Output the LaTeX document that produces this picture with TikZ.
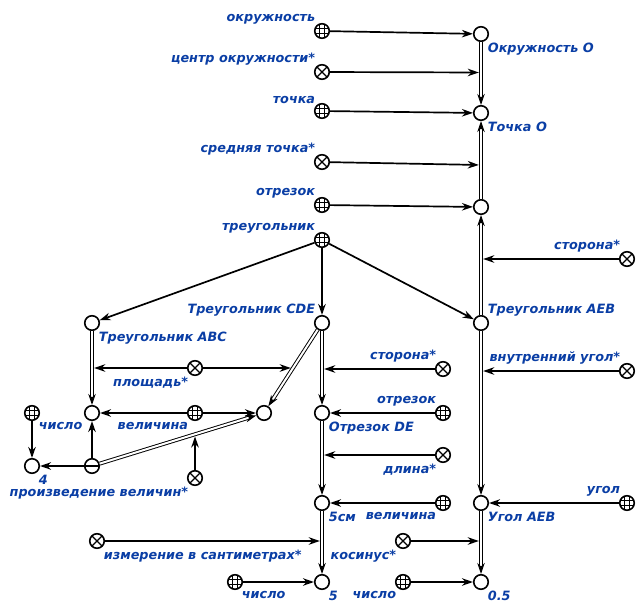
\documentclass[tikz,border=0pt]{standalone}
\usepackage{fontspec}
\setmainfont{DejaVu Sans}
\usetikzlibrary{arrows.meta,calc}
\definecolor{lblue}{RGB}{10,62,165}
\begin{document}
\begin{tikzpicture}[x=1pt,y=-1pt,
  >={Stealth[length=11pt,width=7.5pt,inset=3.5pt]},
  nd/.style={circle,draw,line width=1.6pt,minimum size=14.5pt,inner sep=0pt,fill=white},
  gridnd/.style={nd,path picture={
      \foreach \d in {-2.4,2.4}{
        \draw[line width=0.9pt] ([xshift=\d pt]path picture bounding box.north) -- ([xshift=\d pt]path picture bounding box.south);
        \draw[line width=0.9pt] ([yshift=\d pt]path picture bounding box.west) -- ([yshift=\d pt]path picture bounding box.east);
      }}},
  crossnd/.style={nd,path picture={
      \draw[line width=1.3pt] (path picture bounding box.north west) -- (path picture bounding box.south east);
      \draw[line width=1.3pt] (path picture bounding box.north east) -- (path picture bounding box.south west);}},
  minusnd/.style={nd,path picture={
      \draw[line width=1.3pt] (path picture bounding box.west) -- (path picture bounding box.east);}},
  arr/.style={->,line width=1.7pt},
  tojn/.style={arr,shorten >=2.2pt},
  dbl/.style={->,line width=0.95pt,double=white,double distance=2pt},
  lab/.style={text=lblue,font=\fontsize{12.8}{15}\selectfont\bfseries\itshape,inner sep=1pt},
  labb/.style={lab,yshift=-2pt},
]
\useasboundingbox[fill=white] (0,0) rectangle (642,615);

% left column of classes and relations
\node[gridnd,label={[lab]above left:окружность}] (okr) at (322,31) {};
\node[crossnd,label={[lab]above left:центр окружности*}] (cen) at (322,72) {};
\node[gridnd,label={[lab]above left:точка}] (toch) at (322,111) {};
\node[crossnd,label={[lab]above left:средняя точка*}] (sred) at (322,162) {};
\node[gridnd,label={[lab]above left:отрезок}] (otr) at (322,205) {};
\node[gridnd,label={[lab]above left:треугольник}] (tri) at (322,240) {};

% right column
\node[nd,label={[labb]below right:Окружность O}] (OkrO) at (481,34) {};
\node[nd,label={[labb]below right:Точка O}] (TochO) at (481,113) {};
\node[nd] (seg) at (481,207) {};
\node[nd,label={[lab]above right:Треугольник AEB}] (AEB) at (481,323) {};
\node[nd,label={[labb]below right:Угол AEB}] (angAEB) at (481,503) {};
\node[nd,label={[labb]below right:0.5}] (n05) at (481,582) {};
\node[crossnd,label={[lab]above left:сторона*}] (stor1) at (627,259) {};
\node[crossnd,label={[lab]above left:внутренний угол*}] (vnutr) at (627,371) {};
\node[gridnd,label={[lab]above left:угол}] (ugol) at (627,503) {};
\node[crossnd,label={[labb]below left:косинус*}] (kos) at (403,541) {};
\node[gridnd,label={[labb]below left:число}] (chis3) at (403,582) {};

% middle column
\node[nd,label={[lab]above left:Треугольник CDE}] (CDE) at (322,323) {};
\node[nd,label={[labb]below right:Отрезок DE}] (DE) at (322,413) {};
\node[nd,label={[labb]below right:5см}] (cm5) at (322,503) {};
\node[nd,label={[labb]below right:5}] (n5) at (322,582) {};
\node[crossnd,label={[lab]above left:сторона*}] (stor2) at (443,369) {};
\node[gridnd,label={[lab]above left:отрезок}] (otr2) at (443,413) {};
\node[crossnd,label={[labb]below left:длина*}] (dlina) at (443,455) {};
\node[gridnd,label={[labb]below left:величина}] (vel2) at (443,503) {};
\node[crossnd,label={[labb]below right:измерение в сантиметрах*}] (izm) at (97,541) {};
\node[gridnd,label={[labb]below right:число}] (chis2) at (235,582) {};

% left part
\node[nd,label={[labb]below right:Треугольник ABC}] (ABC) at (92,323) {};
\node[crossnd,label={[labb]below left:площадь*}] (plosh) at (195,368) {};
\node[nd] (ABCs) at (92,413) {};
\node[gridnd,label={[labb]below left:величина}] (vel1) at (195,413) {};
\node[nd] (CDEs) at (264,413) {};
\node[gridnd,label={[labb]below right:число}] (chis1) at (32,413) {};
\node[nd,label={[labb]below right:4}] (n4) at (32,466) {};
\node[minusnd] (prod) at (92,466) {};
\node[crossnd,label={[labb]below left:произведение величин*}] (proizv) at (195,478) {};

% junction points on double arcs
\coordinate (j1) at (481,72.5);
\coordinate (j2) at (481,165);
\coordinate (j3) at (481,259);
\coordinate (j4) at (481,371);
\coordinate (j5) at (481,541);
\coordinate (j6) at (322,369);
\coordinate (j7) at (322,455);
\coordinate (j8) at (322,541);
\coordinate (j9) at (92,368);
\coordinate (j10) at ($(CDE)!0.5!(CDEs)$);
\coordinate (j11) at ($(prod)!0.599!(CDEs)$);

% double arcs
\draw[dbl] (OkrO) -- (TochO);
\draw[dbl] (seg) -- (TochO);
\draw[dbl] (AEB) -- (seg);
\draw[dbl] (AEB) -- (angAEB);
\draw[dbl] (angAEB) -- (n05);
\draw[dbl] (CDE) -- (DE);
\draw[dbl] (DE) -- (cm5);
\draw[dbl] (cm5) -- (n5);
\draw[dbl] (ABC) -- (ABCs);
\draw[dbl] (CDE) -- (CDEs);
\draw[dbl] (prod) -- (CDEs);

% single arcs
\draw[arr] (okr) -- (OkrO);
\draw[tojn] (cen) -- (j1);
\draw[arr] (toch) -- (TochO);
\draw[tojn] (sred) -- (j2);
\draw[arr] (otr) -- (seg);
\draw[tojn] (stor1) -- (j3);
\draw[arr] (tri) -- (AEB);
\draw[arr] (tri) -- (CDE);
\draw[arr] (tri) -- (ABC);
\draw[tojn] (vnutr) -- (j4);
\draw[arr] (ugol) -- (angAEB);
\draw[tojn] (kos) -- (j5);
\draw[arr] (chis3) -- (n05);
\draw[tojn] (stor2) -- (j6);
\draw[arr] (otr2) -- (DE);
\draw[tojn] (dlina) -- (j7);
\draw[arr] (vel2) -- (cm5);
\draw[tojn] (izm) -- (j8);
\draw[arr] (chis2) -- (n5);
\draw[tojn] (plosh) -- (j9);
\draw[tojn] (plosh) -- (j10);
\draw[arr] (vel1) -- (ABCs);
\draw[arr] (vel1) -- (CDEs);
\draw[arr] (chis1) -- (n4);
\draw[arr] (prod) -- (n4);
\draw[arr] (prod) -- (ABCs);
\draw[tojn] (proizv) -- (j11);
\end{tikzpicture}
\end{document}
